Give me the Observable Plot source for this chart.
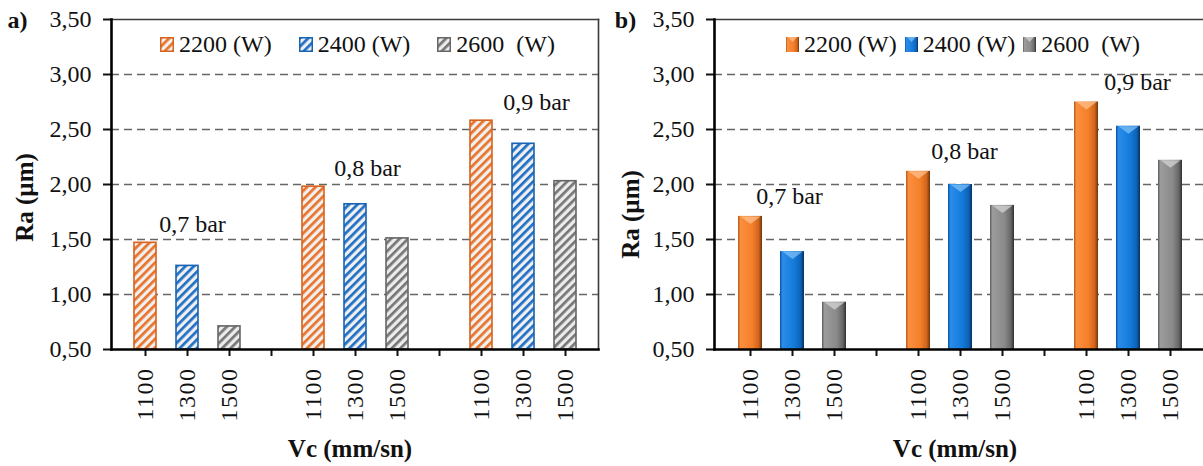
<!DOCTYPE html>
<html>
<head>
<meta charset="utf-8">
<script src="https://cdn.jsdelivr.net/npm/d3@7"></script>
<script src="https://cdn.jsdelivr.net/npm/@observablehq/plot@0.6"></script>
<style>
  html, body { margin: 0; padding: 0; background: #fff; }
  body { width: 1203px; height: 466px; overflow: hidden; font-family: "Liberation Serif", "Times New Roman", serif; }
  #wrap { position: relative; width: 1203px; height: 466px; }
  .panel { position: absolute; top: 0; }
  .legend { position: absolute; top: 29px; display: flex; align-items: center; font-size: 24px; line-height: 30px; color: #111; white-space: pre; }
  .legend .item { display: flex; align-items: center; }
  .legend svg { display: block; margin-right: 5px; }
  g[aria-label="x-axis tick label"] text { letter-spacing: 1.5px; }
</style>
</head>
<body>
<svg width="0" height="0" style="position:absolute">
  <defs>
    <pattern id="hatch0" patternUnits="userSpaceOnUse" width="6" height="6" patternTransform="rotate(45)">
      <rect width="6" height="6" fill="#f0f0f0"/>
      <rect width="2.7" height="6" fill="#e8732a"/>
    </pattern>
    <pattern id="hatch1" patternUnits="userSpaceOnUse" width="6" height="6" patternTransform="rotate(45)">
      <rect width="6" height="6" fill="#f0f0f0"/>
      <rect width="2.7" height="6" fill="#1f6fc4"/>
    </pattern>
    <pattern id="hatch2" patternUnits="userSpaceOnUse" width="6" height="6" patternTransform="rotate(45)">
      <rect width="6" height="6" fill="#ececec"/>
      <rect width="2.7" height="6" fill="#767676"/>
    </pattern>
    <linearGradient id="grad0" x1="0" x2="1" y1="0" y2="0">
      <stop offset="0" stop-color="#b5561a"/>
      <stop offset="0.1" stop-color="#fa8f3e"/>
      <stop offset="0.6" stop-color="#f47f2a"/>
      <stop offset="0.86" stop-color="#d0651c"/>
      <stop offset="1" stop-color="#6e340b"/>
    </linearGradient>
    <linearGradient id="grad1" x1="0" x2="1" y1="0" y2="0">
      <stop offset="0" stop-color="#0b4f9a"/>
      <stop offset="0.1" stop-color="#2b8ceb"/>
      <stop offset="0.6" stop-color="#137ad9"/>
      <stop offset="0.86" stop-color="#0e62b8"/>
      <stop offset="1" stop-color="#06305e"/>
    </linearGradient>
    <linearGradient id="grad2" x1="0" x2="1" y1="0" y2="0">
      <stop offset="0" stop-color="#5a5a5a"/>
      <stop offset="0.1" stop-color="#9c9c9c"/>
      <stop offset="0.6" stop-color="#8a8a8a"/>
      <stop offset="0.86" stop-color="#686868"/>
      <stop offset="1" stop-color="#303030"/>
    </linearGradient>
  </defs>
</svg>
<div id="wrap"></div>
<script>
// ---------------- data ----------------
const groupLabels = ["0,7 bar", "0,8 bar", "0,9 bar"];
const speeds = ["1100", "1300", "1500"];
const powers = ["2200 (W)", "2400 (W)", "2600  (W)"];
const raA = [1.47, 1.26, 0.71, 1.98, 1.82, 1.51, 2.58, 2.37, 2.03];
const raB = [1.71, 1.39, 0.93, 2.12, 2.00, 1.81, 2.75, 2.53, 2.22];
const yTicks = [0.5, 1.0, 1.5, 2.0, 2.5, 3.0, 3.5];
const gridTicks = [1.0, 1.5, 2.0, 2.5, 3.0];
const axisTitleY = "Ra (µm)";
const axisTitleX = "Vc (mm/sn)";
const panelTags = ["a)", "b)"];

// ---------------- styles ----------------
const hatchStroke = ["#d9621c", "#1862b3", "#666666"];
const bevelFill = ["#ffc08e", "#7fc0f7", "#d4d4d4"];
const labelShiftA = [5, 12, 13];   // pixel nudges of group labels (style)
const labelShiftB = [-3, 4, 9];

// categories: three speeds per group, with an empty slot between groups
const cats = [];
groupLabels.forEach((g, gi) => {
  speeds.forEach(s => cats.push(`${gi}|${s}`));
  if (gi < groupLabels.length - 1) cats.push(`gap${gi}`);
});
const tickLabel = k => k.startsWith("gap") ? "" : k.split("|")[1];

function rowsOf(values) {
  return values.map((v, i) => {
    const gi = Math.floor(i / speeds.length), si = i % speeds.length;
    return {key: `${gi}|${speeds[si]}`, series: si, value: v};
  });
}
function labelsOf(values) {
  return groupLabels.map((g, gi) => ({
    key: `${gi}|${speeds[1]}`,
    gi,
    y: d3.max(values.slice(gi * speeds.length, gi * speeds.length + speeds.length)),
    text: g
  }));
}

// downward bevel triangle for the 3D-looking bars
const bevelSymbol = {
  draw(ctx, size) {
    const r = Math.sqrt(size / Math.PI);
    ctx.moveTo(-r, 0);
    ctx.lineTo(r, 0);
    ctx.lineTo(0, r * 0.75);
    ctx.closePath();
  }
};

function makePanel(o) {
  const rows = rowsOf(o.values);
  const marks = [
    Plot.ruleY(gridTicks, {stroke: "#666", strokeWidth: 1.4, strokeDasharray: "8,5"}),
    Plot.frame({anchor: "top", stroke: "#3a3a3a", strokeWidth: 1.6})
  ];
  if (o.rightBorder) marks.push(Plot.frame({anchor: "right", stroke: "#3a3a3a", strokeWidth: 1.6}));
  marks.push(
    Plot.barY(rows, {
      x: "key", y1: 0.5, y2: "value",
      fill: d => o.fillFor(d.series),
      stroke: o.strokeFor ? (d => o.strokeFor(d.series)) : null,
      strokeWidth: 1.6
    })
  );
  if (o.bevel) {
    marks.push(Plot.dot(rows, {x: "key", y: "value", symbol: bevelSymbol, r: 10, fill: d => bevelFill[d.series], fillOpacity: 0.75, stroke: null}));
  }
  const labels = labelsOf(o.values);
  marks.push(
    Plot.axisY({ticks: yTicks, tickFormat: d => d.toFixed(2).replace(".", ","), tickSize: 8, tickPadding: 12, fontSize: 24, strokeWidth: 2, label: null, color: "#111"}),
    Plot.axisX({tickFormat: tickLabel, tickRotate: -90, tickSize: 7, tickPadding: 11, fontSize: 24, strokeWidth: 2, label: null, color: "#111"}),
    Plot.frame({anchor: "left", stroke: "#000", strokeWidth: 2.6}),
    Plot.frame({anchor: "bottom", stroke: "#000", strokeWidth: 2.6}),
    ...labels.map(l => Plot.text([l], {x: "key", y: "y", text: "text", dx: o.labelShift[l.gi], dy: o.labelDy, fontSize: 24, fill: "#111"})),
    Plot.text([axisTitleY], {frameAnchor: "left", textAnchor: "middle", lineAnchor: "middle", rotate: -90, dx: o.titleYDx, dy: o.titleYDy, fontSize: 25, fontWeight: "bold", fill: "#111"}),
    Plot.text([axisTitleX], {frameAnchor: "bottom", textAnchor: "middle", lineAnchor: "middle", dx: -5, dy: 99, fontSize: 25, fontWeight: "bold", fill: "#111"}),
    Plot.text([o.tag], {frameAnchor: "top-left", textAnchor: "middle", lineAnchor: "middle", dx: o.tagDx, dy: 1, fontSize: 24, fontWeight: "bold", fill: "#111"})
  );
  return Plot.plot({
    width: o.width,
    height: 466,
    marginLeft: o.marginLeft,
    marginRight: o.marginRight,
    marginTop: 19,
    marginBottom: 117,
    x: {domain: cats, padding: o.padding},
    y: {domain: [0.5, 3.5]},
    style: {fontFamily: "'Liberation Serif', 'Times New Roman', serif", fontSize: "24px", background: "transparent", overflow: "visible", color: "#111"},
    marks
  });
}

const wrap = document.getElementById("wrap");

const chartA = makePanel({
  values: raA, width: 600, marginLeft: 111, marginRight: 2, padding: 0.48,
  fillFor: s => `url(#hatch${s})`, strokeFor: s => hatchStroke[s], bevel: false,
  labelShift: labelShiftA, labelDy: -18, titleYDx: -87, titleYDy: 13, tag: panelTags[0], tagDx: -94, rightBorder: true
});
chartA.classList.add("panel");
chartA.style.left = "0px";
wrap.appendChild(chartA);

const chartB = makePanel({
  values: raB, width: 604, marginLeft: 113, marginRight: 0, padding: 0.44,
  fillFor: s => `url(#grad${s})`, strokeFor: null, bevel: true,
  labelShift: labelShiftB, labelDy: -20, titleYDx: -84, titleYDy: 30, tag: panelTags[1], tagDx: -89, rightBorder: false
});
chartB.classList.add("panel");
chartB.style.left = "601px";
wrap.appendChild(chartB);

// legends
function makeLegend(left, gap, swatch) {
  const div = document.createElement("div");
  div.className = "legend";
  div.style.left = left + "px";
  div.style.gap = gap + "px";
  powers.forEach((p, i) => {
    const item = document.createElement("div");
    item.className = "item";
    item.innerHTML = swatch(i) + `<span>${p}</span>`;
    div.appendChild(item);
  });
  wrap.appendChild(div);
}
makeLegend(160, 27, i => `<svg width="14" height="15"><rect x="0.75" y="0.75" width="12.5" height="13.5" fill="url(#hatch${i})" stroke="${hatchStroke[i]}" stroke-width="1.5"/></svg>`);
makeLegend(786, 8, i => `<svg width="13" height="15"><rect x="0" y="0" width="13" height="15" fill="url(#grad${i})"/><path d="M2,0 L11,0 L6.5,5 Z" fill="${bevelFill[i]}" fill-opacity="0.75"/></svg>`);
</script>
</body>
</html>
